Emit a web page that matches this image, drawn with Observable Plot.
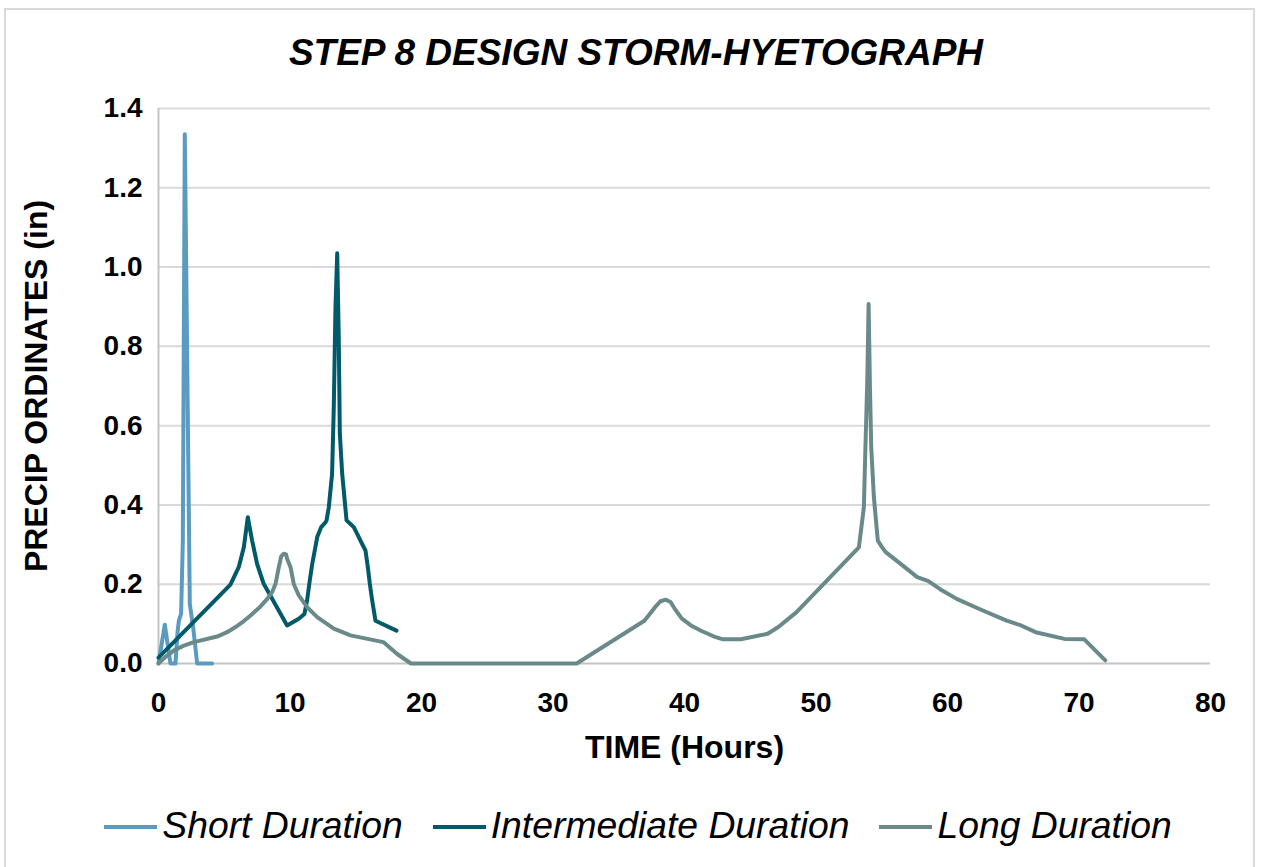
<!DOCTYPE html>
<html>
<head>
<meta charset="utf-8">
<script src="https://cdn.jsdelivr.net/npm/d3@7"></script>
<script src="https://cdn.jsdelivr.net/npm/@observablehq/plot@0.6"></script>
<style>
  html, body { margin: 0; padding: 0; background: #fff; }
  #wrap { position: relative; width: 1263px; height: 867px; overflow: hidden; background: #fff;
          font-family: "Liberation Sans", Arial, sans-serif; }
  #border { position: absolute; left: 4px; top: 8px; width: 1251px; height: 900px; border: 2px solid #d9d9d9; box-sizing: border-box; }
  #title { position: absolute; left: 0; width: 1263px; top: 34px; text-align: center; font-size: 37px; line-height: 37px;
           font-weight: bold; font-style: italic; color: #000; padding-left: 9px; box-sizing: border-box; }
  #chart { position: absolute; left: 0; top: 0; }
  #legend { position: absolute; left: 0; width: 1263px; top: 807px; display: flex; justify-content: center; align-items: center;
            font-size: 37.3px; line-height: 37px; font-style: italic; color: #000; padding-left: 13px; box-sizing: border-box; }
  .item { display: flex; align-items: center; margin: 0 15px; }
  .sw { display: inline-block; width: 53px; height: 4px; margin-right: 5px; margin-top: 3px; }
  g[aria-label="y-axis label"] text, g[aria-label="x-axis label"] text { font-size: 32px; }
</style>
</head>
<body>
<div id="wrap">
  <div id="border"></div>
  <div id="title"></div>
  <div id="chart"></div>
  <div id="legend"></div>
</div>
<script>
const titleText = "STEP 8 DESIGN STORM-HYETOGRAPH";
const xLabel = "TIME (Hours)";
const yLabel = "PRECIP ORDINATES (in)";
const seriesNames = ["Short Duration", "Intermediate Duration", "Long Duration"];
const seriesColors = ["#5a9bc1", "#015a6a", "#6a8a8a"];
const xTicks = [0, 10, 20, 30, 40, 50, 60, 70, 80];
const yTicks = [0, 0.2, 0.4, 0.6, 0.8, 1.0, 1.2, 1.4];

const shortTime   = [0, 0.48, 0.91, 1.29, 1.45, 1.55, 1.72, 1.85, 2.0, 2.38, 2.64, 2.94, 4.08];
const shortPrecip = [0, 0.098, 0, 0, 0.08, 0.108, 0.126, 0.31, 1.335, 0.15, 0.09, 0, 0];

const intermTime   = [0, 5.47, 6.1, 6.49, 6.79, 7.12, 7.5, 8.0, 9.78, 10.67, 11.1, 11.3, 11.5, 11.69, 12.07, 12.37, 12.7, 12.78, 12.95, 13.2, 13.33, 13.46, 13.59, 13.71, 13.79, 13.97, 14.3, 14.6, 14.85, 15.11, 15.36, 15.74, 15.92, 16.07, 16.25, 16.5, 18.1];
const intermPrecip = [0.015, 0.199, 0.243, 0.293, 0.369, 0.31, 0.251, 0.201, 0.096, 0.113, 0.125, 0.159, 0.209, 0.251, 0.319, 0.344, 0.356, 0.361, 0.394, 0.478, 0.647, 0.9, 1.035, 0.815, 0.579, 0.478, 0.361, 0.352, 0.344, 0.327, 0.31, 0.285, 0.243, 0.201, 0.159, 0.108, 0.083];

const longTime   = [0, 0.51, 1.17, 1.93, 2.69, 4.46, 5.22, 5.86, 6.49, 7.0, 7.76, 8.27, 8.64, 8.9, 9.15, 9.33, 9.53, 9.7, 9.78, 10.04, 10.29, 10.67, 11.3, 12.07, 13.33, 14.6, 17.1, 18.15, 19.2,
                    31.8, 36.95, 37.76, 38.17, 38.58, 38.94, 39.26, 39.8, 40.49, 41.3, 42.25, 42.93, 44.29, 46.32, 47.14, 48.5,
                    53.26, 53.64, 53.76, 53.9, 54.0, 54.1, 54.2, 54.4, 54.7, 55.03, 55.3, 56.1, 57.7, 58.55, 59.6, 60.7, 62.6, 64.5, 65.6, 66.7, 68.9, 70.4, 72.0];
const longPrecip = [0, 0.016, 0.033, 0.045, 0.054, 0.068, 0.079, 0.092, 0.107, 0.121, 0.144, 0.163, 0.18, 0.201, 0.243, 0.27, 0.277, 0.275, 0.264, 0.243, 0.2, 0.172, 0.142, 0.117, 0.088, 0.071, 0.054, 0.024, 0,
                    0, 0.108, 0.142, 0.157, 0.161, 0.155, 0.138, 0.113, 0.096, 0.082, 0.068, 0.061, 0.061, 0.075, 0.092, 0.129,
                    0.293, 0.394, 0.546, 0.714, 0.907, 0.7, 0.546, 0.42, 0.31, 0.293, 0.281, 0.26, 0.218, 0.208, 0.184, 0.163, 0.135, 0.108, 0.096, 0.079, 0.062, 0.061, 0.008];

const rows = [];
[[shortTime, shortPrecip], [intermTime, intermPrecip], [longTime, longPrecip]].forEach(([t, p], i) => {
  t.forEach((v, j) => rows.push({series: seriesNames[i], time: v, precip: p[j]}));
});

document.getElementById("title").textContent = titleText;

const plot = Plot.plot({
  width: 1263,
  height: 867,
  marginTop: 108,
  marginLeft: 158,
  marginRight: 53,
  marginBottom: 204,
  style: {fontFamily: "'Liberation Sans', Arial, sans-serif", fontWeight: "bold", color: "#000", background: "transparent"},
  x: {domain: [0, 80]},
  y: {domain: [0, 1.4]},
  color: {domain: seriesNames, range: seriesColors},
  marks: [
    Plot.gridY(yTicks.filter(d => d > 0), {stroke: "#d9d9d9", strokeOpacity: 1, strokeWidth: 2}),
    Plot.ruleY([0], {stroke: "#c4c4c4", strokeWidth: 2}),
    Plot.ruleX([0], {stroke: "#c4c4c4", strokeWidth: 2}),
    Plot.axisY({ticks: yTicks, tickSize: 0, tickPadding: 16, tickFormat: d3.format(".1f"), fontSize: 28,
                label: yLabel, labelAnchor: "center", labelOffset: 134, labelArrow: "none"}),
    Plot.axisX({ticks: xTicks, tickSize: 0, tickPadding: 29, tickFormat: d3.format("d"), fontSize: 28,
                label: xLabel, labelAnchor: "center", labelOffset: 94, labelArrow: "none"}),
    Plot.line(rows, {x: "time", y: "precip", z: "series", stroke: "series", strokeWidth: 4, curve: "linear",
                     strokeLinejoin: "round", strokeLinecap: "round"})
  ]
});
document.getElementById("chart").appendChild(plot);

const legend = document.getElementById("legend");
seriesNames.forEach((name, i) => {
  const item = document.createElement("div");
  item.className = "item";
  const sw = document.createElement("span");
  sw.className = "sw";
  sw.style.background = seriesColors[i];
  const lab = document.createElement("span");
  lab.textContent = name;
  item.appendChild(sw);
  item.appendChild(lab);
  legend.appendChild(item);
});
</script>
</body>
</html>
